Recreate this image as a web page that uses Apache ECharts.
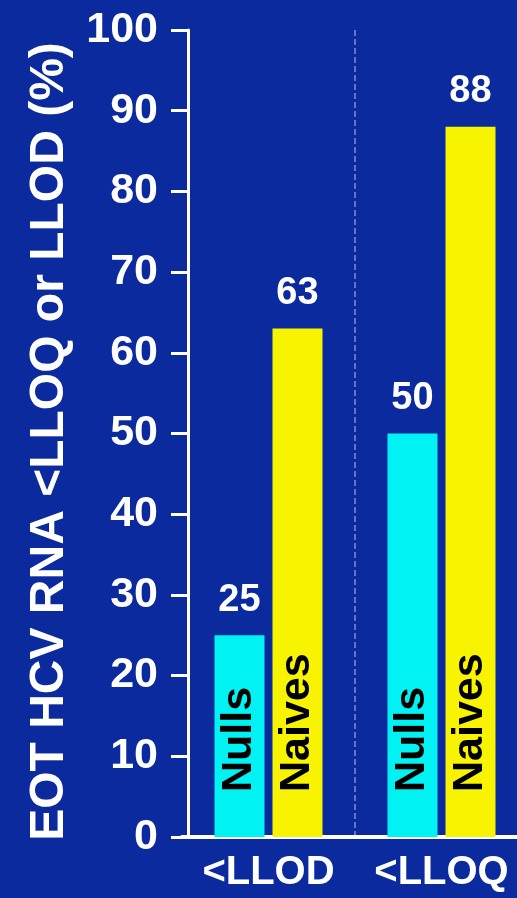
<!DOCTYPE html>
<html>
<head>
<meta charset="utf-8">
<script src="https://cdn.jsdelivr.net/npm/echarts@6/dist/echarts.min.js"></script>
<style>
html,body{margin:0;padding:0;background:#0a2a9d;overflow:hidden;width:517px;height:898px;}
#chart{width:530px;height:898px;}
</style>
</head>
<body>
<div id="chart"></div>
<script>
const categories = ['<LLOD', '<LLOQ'];
const nulls = [25, 50];
const naives = [63, 88];
const yTicks = [0, 10, 20, 30, 40, 50, 60, 70, 80, 90, 100];
const yTitle = 'EOT HCV RNA <LLOQ or LLOD (%)';

const FONT = '"Liberation Sans", Arial, sans-serif';
const chart = echarts.init(document.getElementById('chart'));

function innerLabel(name) {
  return {
    show: true, position: 'insideBottom', rotate: 90, align: 'left', verticalAlign: 'middle',
    distance: 45, formatter: name, color: '#000', fontSize: 43, fontWeight: 'bold', fontFamily: FONT
  };
}
function topLabel(arr) {
  return {
    show: true, position: 'top', distance: 16, color: '#fff', fontSize: 38, fontWeight: 'bold', fontFamily: FONT,
    formatter: p => String(arr[p.dataIndex])
  };
}

chart.setOption({
  backgroundColor: '#0a2a9d',
  animation: false,
  grid: { left: 182, right: 2, top: 30, bottom: 61, containLabel: false },
  xAxis: [{
    type: 'category',
    data: categories,
    axisLine: { show: true, lineStyle: { color: '#fff', width: 4 } },
    axisTick: { show: false },
    axisLabel: { interval: 0, hideOverlap: false, color: '#fff', fontSize: 40, fontWeight: 'bold', fontFamily: FONT, margin: 16 },
    splitLine: { show: false }
  }, {
    type: 'value', min: 0, max: 2, interval: 1, position: 'bottom',
    axisLine: { show: false }, axisLabel: { show: false },
    axisTick: { show: false },
    splitLine: { show: true, showMinLine: false, showMaxLine: false,
      lineStyle: { color: '#7b8de0', type: 'dashed', width: 1.5 } }
  }],
  yAxis: {
    type: 'value', min: 0, max: 100, interval: 10, offset: -6,
    name: yTitle, nameLocation: 'middle', nameGap: 114,
    nameTextStyle: { color: '#fff', fontSize: 48, fontWeight: 'bold', fontFamily: FONT, padding: [0, 16, 0, 0] },
    axisLine: { show: true, lineStyle: { color: '#fff', width: 3 } },
    axisTick: { show: true, length: 17, lineStyle: { color: '#fff', width: 3 } },
    axisLabel: { color: '#fff', fontSize: 43, fontWeight: 'bold', fontFamily: FONT, margin: 30,
      formatter: v => yTicks.includes(v) ? String(v) : '' },
    splitLine: { show: false }
  },
  series: [
    { name: 'Nulls', type: 'bar', stack: 'n', data: nulls, barWidth: 50, barGap: '16%',
      itemStyle: { color: '#00f2f2' }, label: innerLabel('Nulls') },
    { name: 'Naives', type: 'bar', stack: 'v', data: naives, barWidth: 50, barGap: '16%',
      itemStyle: { color: '#f8f400' }, label: innerLabel('Naives') },
    { name: 'NullsTop', type: 'bar', stack: 'n', data: nulls.map(() => 0), barWidth: 50,
      itemStyle: { color: 'transparent' }, label: topLabel(nulls) },
    { name: 'NaivesTop', type: 'bar', stack: 'v', data: naives.map(() => 0), barWidth: 50, barGap: '16%',
      itemStyle: { color: 'transparent' }, label: topLabel(naives) }
  ]
});
</script>
</body>
</html>
